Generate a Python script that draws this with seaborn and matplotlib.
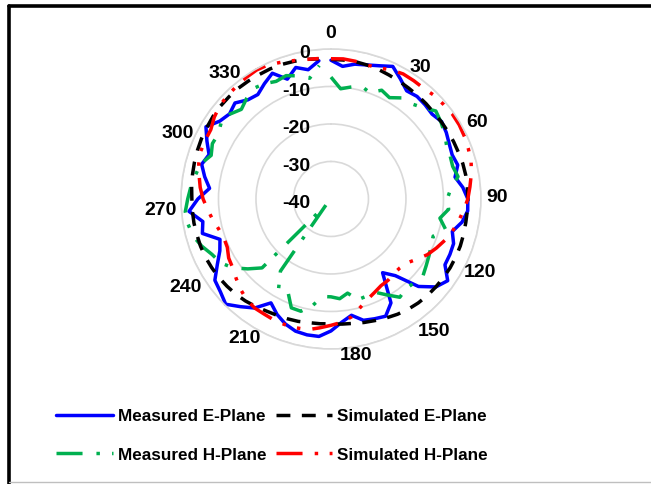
import numpy as np
import pandas as pd
import matplotlib
matplotlib.use("Agg")
import matplotlib.pyplot as plt
import matplotlib.transforms as mtransforms
from matplotlib.lines import Line2D
import seaborn as sns

# Angles (deg, clockwise from top) and gains (dB)
angles = list(range(0, 360, 5))

measured_e = [-3.0, -4.5, -3.5, -3.0, -2.2, -1.0, -3.0, -4.8, -4.3, -4.5,
              -4.8, -4.0, -4.5, -5.2, -5.6, -5.0, -6.4, -4.7, -3.5, -3.4,
              -4.5, -6.5, -5.2, -5.0, -4.9, -2.0, -3.5, -7.0, -13.3, -16.0,
              -8.0, -5.5, -6.0, -6.5, -8.5, -7.0, -4.8, -3.2, -3.2, -3.5,
              -4.5, -6.0, -8.0, -4.5, -2.5, -0.3, -1.5, -2.2, -5.0, -7.3,
              -8.5, -4.5, -5.3, -2.0, -4.5, -7.5, -5.8, -4.3, -5.4, -3.5,
              -1.5, -3.8, -4.7, -3.8, -5.5, -6.0, -4.5, -3.0, -6.0, -3.7,
              -5.0, -3.0]

simulated_e = [-2.8, -2.8, -2.8, -3.0, -3.2, -3.5, -3.7, -3.9, -4.0, -4.1,
               -4.2, -4.1, -4.0, -3.9, -3.8, -3.6, -3.5, -3.5, -3.5, -3.5,
               -3.5, -3.4, -3.3, -3.3, -3.3, -3.4, -3.5, -3.6, -3.8, -4.1,
               -4.5, -5.0, -5.5, -5.9, -6.3, -6.5, -6.7, -6.6, -6.5, -6.2,
               -6.0, -5.8, -5.5, -5.0, -4.5, -4.1, -3.8, -3.5, -3.3, -3.1,
               -3.0, -3.0, -2.9, -2.9, -2.9, -2.7, -2.5, -2.3, -2.1, -1.9,
               -1.8, -1.6, -1.5, -1.5, -1.5, -1.6, -1.7, -1.7, -1.8, -2.0,
               -2.2, -2.5]

measured_h = [-7.5, -10.5, -9.7, -8.8, -9.8, -8.0, -8.8, -7.1, -6.8, -5.5,
              -3.5, -4.2, -5.0, -6.0, -6.2, -6.4, -5.6, -7.9, -9.0, -8.5,
              -10.5, -8.3, -11.0, -10.5, -9.8, -9.0, -8.0, -8.5, -8.8, -8.0,
              -10.5, -12.6, -12.4, -12.2, -14.5, -13.3, -13.9, -13.9, -11.0, -9.0,
              -9.1, -12.8, -12.0, -16.5, -38.0, -14.0, -11.0, -8.0, -6.0, -5.0,
              -3.3, -1.9, -1.3, -1.0, -1.8, -2.5, -3.3, -4.0, -6.0, -5.1,
              -5.3, -4.3, -4.8, -6.2, -5.0, -4.0, -4.5, -5.4, -5.0, -6.0,
              -7.3, -4.3]

simulated_h = [-2.6, -2.5, -2.7, -3.0, -2.8, -2.0, -1.5, -1.5, -1.5, -1.0,
               -0.8, -0.5, -0.5, -0.7, -1.0, -1.3, -2.0, -2.8, -3.5, -4.5,
               -5.5, -6.5, -7.7, -9.0, -10.3, -12.0, -13.5, -14.0, -14.0, -13.5,
               -13.3, -12.5, -11.5, -10.0, -8.1, -7.0, -6.3, -5.5, -4.6, -4.4,
               -4.3, -4.3, -4.5, -4.5, -5.0, -5.9, -7.0, -8.0, -8.5, -9.5,
               -9.6, -9.0, -8.0, -7.0, -5.9, -5.0, -4.3, -3.5, -3.0, -3.0,
               -3.0, -2.0, -1.3, -1.0, -0.8, -0.5, -0.3, -0.5, -1.2, -1.8,
               -2.2, -2.4]

angle_ticks = list(range(0, 360, 30))
r_ticks = [-40, -30, -20, -10, 0]

# where the original put each angle label (deg, dB beyond the rim)
label_pos = [(0, 4.5), (34, 2.7), (62, 4.0), (89, 4.3), (116, 4.3), (142, 4.5),
             (171, 1.9), (212, 3.7), (239, 5.3), (266.5, 5.6), (293.5, 4.5),
             (320, 4.0)]

sns.set_theme(style="white")
plt.rcParams['font.family'] = ['Liberation Sans', 'DejaVu Sans']
plt.rcParams['font.weight'] = 'bold'
plt.rcParams['text.color'] = 'black'
plt.rcParams['xtick.color'] = 'black'
plt.rcParams['ytick.color'] = 'black'

fig = plt.figure(figsize=(6.51, 4.85), dpi=100)
ax = fig.add_axes([0.278, 0.2784, 0.4608, 0.6186], projection='polar')
ax.set_theta_zero_location('N')
ax.set_theta_direction(-1)

# close each trace
theta = np.radians(angles + [angles[0]])

series = [
    ("Measured E-Plane", measured_e, "#0000FF", "-"),
    ("Measured H-Plane", measured_h, "#00B050", (0, (7.5, 4, 1, 3.5))),
    ("Simulated E-Plane", simulated_e, "#000000", (0, (4, 3.3))),
    ("Simulated H-Plane", simulated_h, "#FF0000", (0, (7.5, 3.5, 1, 3.3, 1, 3.5))),
]

for name, vals, color, ls in series:
    df = pd.DataFrame({"theta": theta, "gain": vals + [vals[0]]})
    sns.lineplot(data=df, x="theta", y="gain", ax=ax, sort=False,
                 color=color, linewidth=2.5, linestyle=ls, label=name,
                 clip_on=False)

ax.set_xlabel("")
ax.set_ylabel("")
ax.set_ylim(-40, 0)
ax.set_yticks(r_ticks[1:])
ax.set_yticklabels([])
ax.yaxis.grid(True, color="#D9D9D9", linewidth=1.2)
ax.xaxis.grid(False)
ax.spines['polar'].set_color("#D9D9D9")
ax.spines['polar'].set_linewidth(1.2)

ax.set_xticks(np.radians(angle_ticks))
ax.set_xticklabels([])
for a, (pa, dr) in zip(angle_ticks, label_pos):
    ax.text(np.radians(pa), dr, str(a), ha='center', va='center',
            fontsize=14, fontweight='bold', clip_on=False)

# radial labels in a column left of the vertical axis
off = mtransforms.offset_copy(ax.transData, fig=fig, x=-21, y=-4, units='dots')
for r in r_ticks:
    ax.text(0, r, str(r), transform=off, ha='right', va='center',
            fontsize=14, fontweight='bold')

h, l = ax.get_legend_handles_labels()
ax.get_legend().remove()
fig.legend(h, l, ncol=2, loc='center', bbox_to_anchor=(0.418, 0.101),
           frameon=False, handlelength=3.3, handletextpad=0.3,
           columnspacing=0.55, labelspacing=1.35,
           prop={'weight': 'bold', 'size': 12.3})

# frame of the original picture
fig.add_artist(Line2D([8.7 / 651, 1], [1 - 7.3 / 485, 1 - 7.3 / 485],
                      transform=fig.transFigure, color='black', linewidth=2.6))
fig.add_artist(Line2D([8.7 / 651, 8.7 / 651], [0, 1 - 7.3 / 485],
                      transform=fig.transFigure, color='black', linewidth=2.6))
fig.add_artist(Line2D([8.7 / 651, 1], [1.7 / 485, 1.7 / 485],
                      transform=fig.transFigure, color='#BFBFBF', linewidth=1))

fig.savefig("out.png", dpi=100)
